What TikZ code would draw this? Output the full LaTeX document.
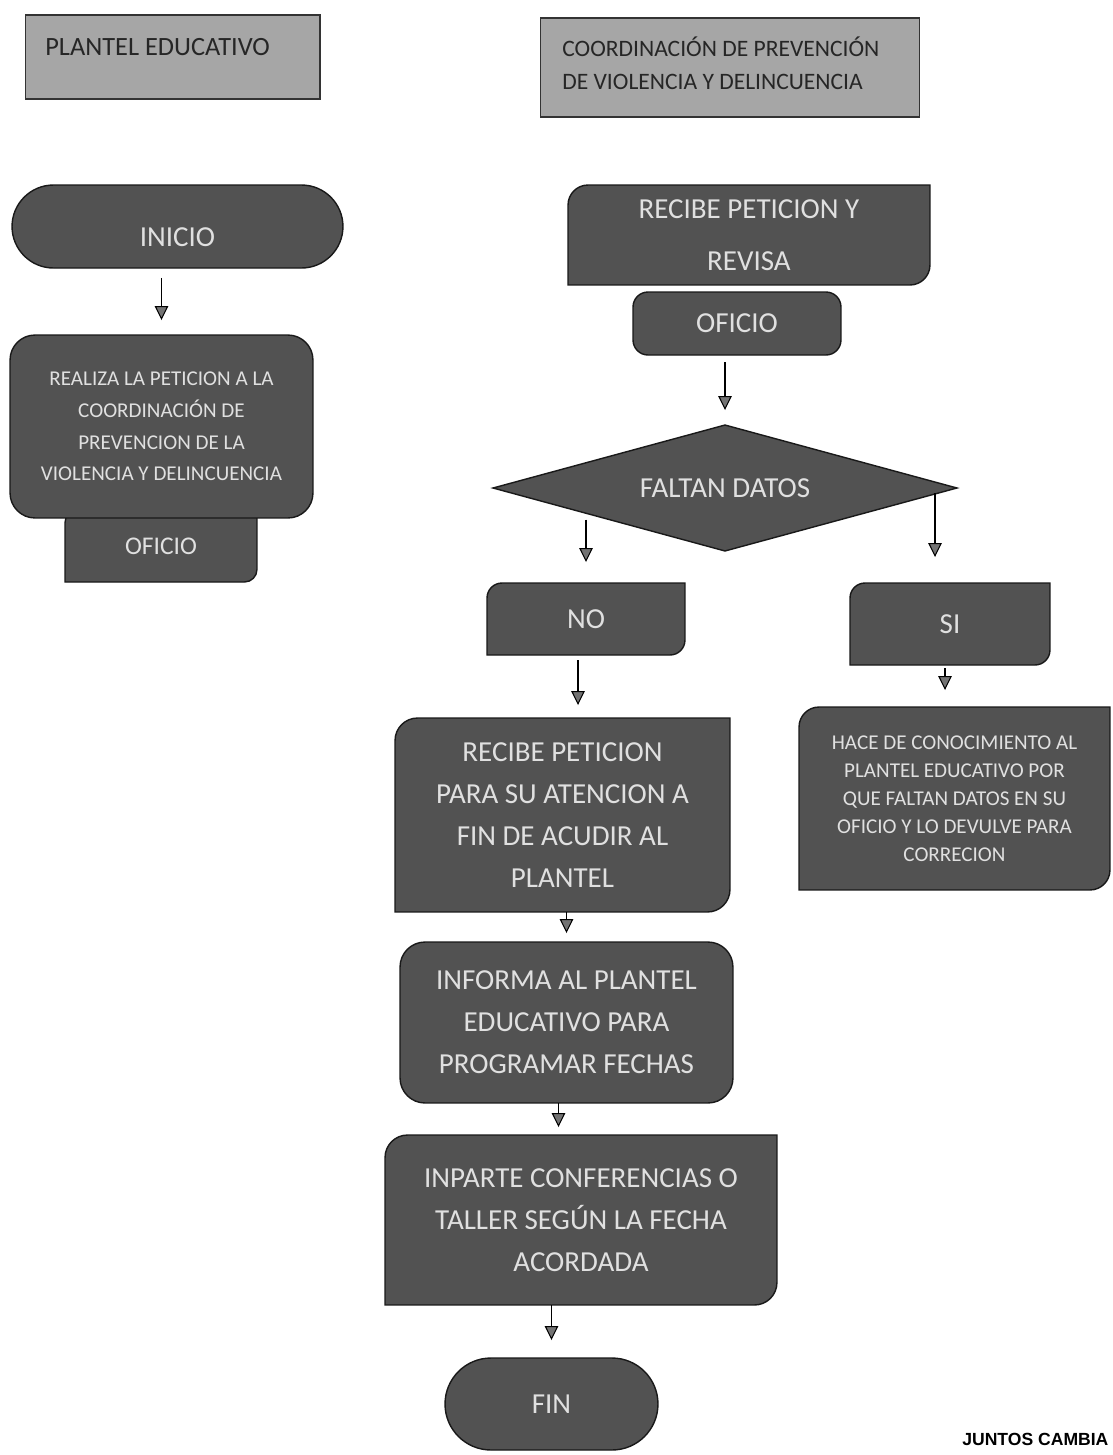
\documentclass[tikz,border=0pt]{standalone}
\usepackage{fontspec}
\setmainfont{Carlito}
\newfontfamily\footfont{Liberation Sans}
\usetikzlibrary{shapes.geometric,shapes.misc,arrows.meta,backgrounds}

% fill for a box with rounded top-left and bottom-right corners
\newcommand{\diagfill}[2][0.4cm]{%
  \begin{pgfonlayer}{background}
    \filldraw[boxfill] ([yshift=-#1]#2.north west) arc[start angle=180,end angle=90,radius=#1]
      -- (#2.north east) -- ([yshift=#1]#2.south east) arc[start angle=0,end angle=-90,radius=#1]
      -- (#2.south west) -- cycle;
  \end{pgfonlayer}}

\begin{document}
\begin{tikzpicture}[x=0.02cm,y=-0.02cm,
  boxfill/.style={fill=black!68,draw=black!90,line width=0.8pt},
  boxtext/.style={text=white!88!black,align=center,inner sep=0pt,outer sep=0pt},
  diagbox/.style={boxtext,rectangle},
  roundbox/.style={boxtext,boxfill,rectangle,rounded corners=#1},
  endbox/.style={boxtext,boxfill,rounded rectangle},
  decision/.style={boxtext,boxfill,diamond,aspect=3.68},
  hdrbox/.style={fill=black!35,draw=black!80,line width=0.6pt,inner sep=0pt},
  headtext/.style={text=black!85,align=left,inner sep=0pt},
  arr/.style={line width=0.6pt,-{Triangle[width=0.27cm,length=0.28cm,fill=black!55]}},
  bigtext/.style={font=\fontsize{16.5}{24}\selectfont},
  smalltext/.style={font=\fontsize{12}{18}\selectfont}]
\useasboundingbox (0,0) rectangle (1113,1455);

% column headers
\node[hdrbox,minimum width=5.9cm,minimum height=1.68cm] (hplantel) at (172.5,57) {};
\node[headtext,anchor=base west,font=\fontsize{15}{18}\selectfont] (tplantel) at (45,55) {PLANTEL EDUCATIVO};
\node[hdrbox,minimum width=7.6cm,minimum height=1.98cm] (hcoord) at (730,67.5) {};
\node[headtext,anchor=north west,font=\fontsize{13.4}{19.3}\selectfont] (tcoord) at (562,36)
  {COORDINACIÓN DE PREVENCIÓN\\DE VIOLENCIA Y DELINCUENCIA};

% plantel educativo
\node[endbox,bigtext,text height=0.82cm,minimum width=6.62cm,minimum height=1.66cm] (inicio) at (177.5,226.5) {INICIO};
\node[diagbox,font=\fontsize{14.5}{18}\selectfont,minimum width=3.84cm,minimum height=1.44cm] (oficioA) at (161,546) {OFICIO};
\diagfill[0.25cm]{oficioA}
\node[roundbox=0.5cm,smalltext,minimum width=6.06cm,minimum height=3.66cm] (realiza) at (161.5,426.5)
  {REALIZA LA PETICION A LA\\COORDINACIÓN DE\\PREVENCION DE LA\\VIOLENCIA Y DELINCUENCIA};

% coordinacion
\node[diagbox,font=\fontsize{16.5}{29.5}\selectfont,minimum width=7.24cm,minimum height=2cm] (recibe) at (749,235)
  {RECIBE PETICION Y\\REVISA};
\diagfill[0.4cm]{recibe}
\node[roundbox=0.3cm,bigtext,minimum width=4.16cm,minimum height=1.26cm] (oficioB) at (737,323.5) {OFICIO};
\node[decision,bigtext,minimum width=9.28cm,minimum height=2.52cm] (faltan) at (725,488) {FALTAN DATOS};
\node[diagbox,bigtext,minimum width=3.96cm,minimum height=1.44cm] (no) at (586,619) {NO};
\diagfill[0.3cm]{no}
\node[diagbox,bigtext,minimum width=4cm,minimum height=1.64cm] (si) at (950,624) {SI};
\diagfill[0.3cm]{si}
\node[diagbox,font=\fontsize{12}{16}\selectfont,minimum width=6.22cm,minimum height=3.66cm] (hace) at (954.5,798.5)
  {HACE DE CONOCIMIENTO AL\\PLANTEL EDUCATIVO POR\\QUE FALTAN DATOS EN SU\\OFICIO Y LO DEVULVE PARA\\CORRECION};
\diagfill[0.4cm]{hace}
\node[diagbox,bigtext,minimum width=6.7cm,minimum height=3.88cm] (recibeB) at (562.5,815)
  {RECIBE PETICION\\PARA SU ATENCION A\\FIN DE ACUDIR AL\\PLANTEL};
\diagfill[0.45cm]{recibeB}
\node[roundbox=0.5cm,bigtext,minimum width=6.66cm,minimum height=3.22cm] (informa) at (566.5,1022.5)
  {INFORMA AL PLANTEL\\EDUCATIVO PARA\\PROGRAMAR FECHAS};
\node[diagbox,bigtext,minimum width=7.84cm,minimum height=3.4cm] (inparte) at (581,1220)
  {INPARTE CONFERENCIAS O\\TALLER SEGÚN LA FECHA\\ACORDADA};
\diagfill[0.45cm]{inparte}
\node[endbox,bigtext,minimum width=4.26cm,minimum height=1.84cm] (fin) at (551.5,1404) {FIN};

\node[anchor=base west,inner sep=0pt,font=\footfont\bfseries\fontsize{10}{12}\selectfont] (lema) at (962,1445) {JUNTOS CAMBIA};

% connectors
\coordinate (sitop) at ([xshift=-0.3cm]si.north);
\coordinate (sibot) at ([xshift=-0.1cm]si.south);
\coordinate (nobot) at ([xshift=-0.16cm]no.south);
\coordinate (infbot) at ([xshift=-0.16cm]informa.south);
\draw[arr,shorten <=0.2cm,shorten >=0.3cm] (inicio.south -| realiza.north) -- (realiza.north);
\draw[arr,shorten <=0.14cm,shorten >=0.3cm] (oficioB.south -| faltan.north) -- (faltan.north);
\draw[arr,shorten >=0.42cm] (no.north |- faltan.south west) -- (no.north);
\draw[arr,shorten <=0.1cm,shorten >=0.52cm] (sitop |- faltan.east) -- (sitop);
\draw[arr,shorten <=0.06cm,shorten >=0.34cm] (sibot) -- (sibot |- hace.north);
\draw[arr,shorten <=0.1cm,shorten >=0.26cm] (nobot) -- (nobot |- recibeB.north);
\draw[arr,shorten >=0.18cm] (recibeB.south -| informa.north) -- (informa.north);
\draw[arr,shorten >=0.16cm] (infbot) -- (infbot |- inparte.north);
\draw[arr,shorten >=0.36cm] (inparte.south -| fin.north) -- (fin.north);
\end{tikzpicture}
\end{document}
